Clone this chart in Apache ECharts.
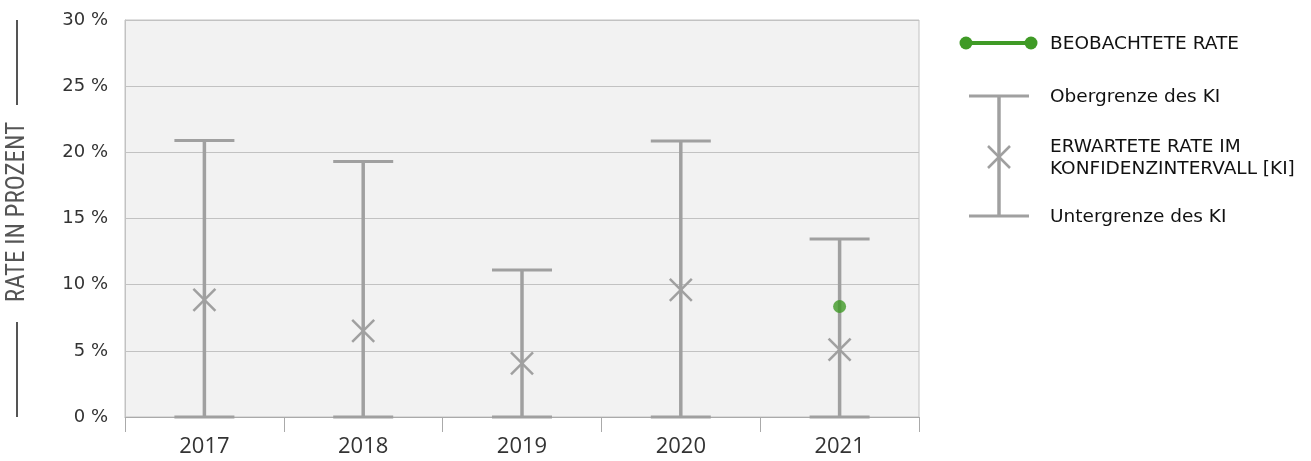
<!DOCTYPE html>
<html><head><meta charset="utf-8">
<script src="https://cdn.jsdelivr.net/npm/echarts@6/dist/echarts.min.js"></script>
<style>html,body{margin:0;padding:0;background:#fff}#c{width:1311px;height:461px}</style>
</head><body><div id="c"></div>
<script>
const years = ['2017', '2018', '2019', '2020', '2021'];
const lowerCI = [0, 0, 0, 0, 0];
const upperCI = [20.9, 19.3, 11.1, 20.85, 13.45];
const expectedRate = [8.85, 6.5, 4.05, 9.6, 5.1];
const observedRate = [null, null, null, null, 8.35];
const yTicks = [0, 5, 10, 15, 20, 25, 30];

const GREY = '#a0a0a0';
const GREEN = '#3f9a26';
const LEG_FONT = { fontFamily: 'DejaVu Sans', fontSize: 18.5, fill: '#111', verticalAlign: 'middle' };
const chart = echarts.init(document.getElementById('c'));

const errData = years.map((y, i) => [i, lowerCI[i], upperCI[i], expectedRate[i]]);

function legText(txt, y) {
  return { type: 'text', x: 1050, y: y, style: Object.assign({ text: txt }, LEG_FONT) };
}

chart.setOption({
  animation: false,
  grid: { left: 125, right: 392, top: 20, bottom: 44, show: true, backgroundColor: '#f2f2f2', borderColor: '#c2c2c2', borderWidth: 1 },
  xAxis: {
    type: 'category', data: years, boundaryGap: true,
    axisLine: { lineStyle: { color: '#aaaaaa', width: 1 } },
    axisTick: { show: true, length: 15, lineStyle: { color: '#aaaaaa' } },
    axisLabel: { color: '#333', fontSize: 22, fontFamily: 'Open Sans', margin: 19 }
  },
  yAxis: {
    type: 'value', min: yTicks[0], max: yTicks[yTicks.length - 1], interval: 5,
    axisLine: { show: true, lineStyle: { color: '#c2c2c2' } },
    axisTick: { show: false },
    splitLine: { lineStyle: { color: '#c2c2c2', width: 1 } },
    axisLabel: { color: '#333', fontSize: 18, fontFamily: 'DejaVu Sans', margin: 17, formatter: v => v + ' %' }
  },
  series: [
    {
      type: 'custom', data: errData, z: 3,
      renderItem: function (params, api) {
        const x = api.value(0);
        const lo = api.coord([x, api.value(1)]);
        const hi = api.coord([x, api.value(2)]);
        const mid = api.coord([x, api.value(3)]);
        const hw = 30, m = 11;
        const ls = { stroke: GREY, lineWidth: 3.5 };
        return { type: 'group', children: [
          { type: 'line', shape: { x1: hi[0], y1: hi[1], x2: lo[0], y2: lo[1] }, style: ls },
          { type: 'line', shape: { x1: hi[0] - hw, y1: hi[1], x2: hi[0] + hw, y2: hi[1] }, style: { stroke: GREY, lineWidth: 3 } },
          { type: 'line', shape: { x1: lo[0] - hw, y1: lo[1], x2: lo[0] + hw, y2: lo[1] }, style: { stroke: GREY, lineWidth: 3 } },
          { type: 'line', shape: { x1: mid[0] - m, y1: mid[1] - m, x2: mid[0] + m, y2: mid[1] + m }, style: { stroke: GREY, lineWidth: 2.5 } },
          { type: 'line', shape: { x1: mid[0] - m, y1: mid[1] + m, x2: mid[0] + m, y2: mid[1] - m }, style: { stroke: GREY, lineWidth: 2.5 } }
        ]};
      }
    },
    {
      type: 'scatter', data: observedRate, symbol: 'circle', symbolSize: 13, z: 4,
      itemStyle: { color: GREEN }
    }
  ],
  graphic: [
    { type: 'text', x: 18, y: 212, rotation: Math.PI / 2, style: { text: 'RATE IN PROZENT', fontFamily: 'Roboto Condensed', fontSize: 25, fill: '#555', align: 'center', verticalAlign: 'middle' } },
    { type: 'line', shape: { x1: 17, y1: 20, x2: 17, y2: 105 }, style: { stroke: '#555', lineWidth: 2 } },
    { type: 'line', shape: { x1: 17, y1: 322, x2: 17, y2: 417 }, style: { stroke: '#555', lineWidth: 2 } },
    // legend
    { type: 'line', shape: { x1: 966, y1: 43, x2: 1031, y2: 43 }, style: { stroke: GREEN, lineWidth: 4 } },
    { type: 'circle', shape: { cx: 966, cy: 43, r: 6.5 }, style: { fill: GREEN } },
    { type: 'circle', shape: { cx: 1031, cy: 43, r: 6.5 }, style: { fill: GREEN } },
    legText('BEOBACHTETE RATE', 44),
    { type: 'line', shape: { x1: 969, y1: 96, x2: 1029, y2: 96 }, style: { stroke: GREY, lineWidth: 3 } },
    { type: 'line', shape: { x1: 969, y1: 216, x2: 1029, y2: 216 }, style: { stroke: GREY, lineWidth: 3 } },
    { type: 'line', shape: { x1: 999, y1: 96, x2: 999, y2: 216 }, style: { stroke: GREY, lineWidth: 3.5 } },
    { type: 'line', shape: { x1: 988, y1: 146, x2: 1010, y2: 168 }, style: { stroke: GREY, lineWidth: 2.5 } },
    { type: 'line', shape: { x1: 988, y1: 168, x2: 1010, y2: 146 }, style: { stroke: GREY, lineWidth: 2.5 } },
    legText('Obergrenze des KI', 97),
    legText('ERWARTETE RATE IM', 147),
    legText('KONFIDENZINTERVALL [KI]', 169),
    legText('Untergrenze des KI', 217)
  ]
});
</script></body></html>
